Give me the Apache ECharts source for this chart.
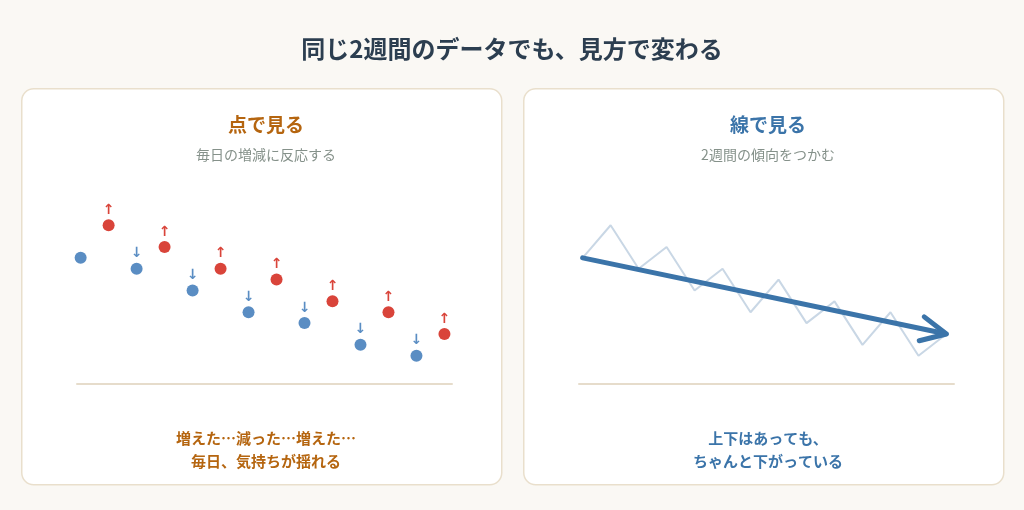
<!DOCTYPE html>
<html>
<head>
<meta charset="utf-8">
<script src="https://cdn.jsdelivr.net/npm/echarts@6/dist/echarts.min.js"></script>
<style>
  html, body { margin: 0; padding: 0; background: #faf8f4; }
  #chart { width: 1024px; height: 510px; }
</style>
</head>
<body>
<div id="chart"></div>
<script>
const myChart = echarts.init(document.getElementById('chart'));

// 14 days of values (same data for both panels)
const days = [0, 1, 2, 3, 4, 5, 6, 7, 8, 9, 10, 11, 12, 13];
const values = [10, 13, 9, 11, 7, 9, 5, 8, 4, 6, 2, 5, 1, 3];

const mainTitle = '同じ2週間のデータでも、見方で変わる';
const leftTitle = '点で見る';
const leftSub = '毎日の増減に反応する';
const leftNote = '増えた…減った…増えた…\n毎日、気持ちが揺れる';
const rightTitle = '線で見る';
const rightSub = '2週間の傾向をつかむ';
const rightNote = '上下はあっても、\nちゃんと下がっている';

const FONT = '"Noto Sans CJK JP", "Noto Sans", sans-serif';
const RED = '#d9443a';
const BLUE = '#5a8dc3';
const ORANGE = '#b5650f';
const DEEP_BLUE = '#3b74a9';

// up / down compared with the day before
const trend = values.map((v, i) => (i === 0 ? 0 : v > values[i - 1] ? 1 : -1));

const pointData = days.map((d, i) => ({
    value: [d, values[i]],
    itemStyle: {color: trend[i] > 0 ? RED : BLUE, opacity: 1},
    label: {
        show: i > 0,
        formatter: trend[i] > 0 ? '↑' : '↓',
        color: trend[i] > 0 ? RED : BLUE,
    },
}));

const lineData = days.map((d, i) => [d, values[i]]);
const trendData = [[days[0], values[0], days[days.length - 1], values[values.length - 1]]];

const xBase = {
    type: 'value',
    min: -0.13,
    max: 13.27,
    axisLine: {show: true, onZero: false, lineStyle: {color: '#e6dccb', width: 2}},
    axisTick: {show: false},
    axisLabel: {show: false},
    splitLine: {show: false},
};
const yBase = {
    type: 'value',
    min: -1.6,
    max: 14.4,
    axisLine: {show: false},
    axisTick: {show: false},
    axisLabel: {show: false},
    splitLine: {show: false},
};

const panel = (x) => ({
    type: 'rect',
    left: x,
    top: 88,
    shape: {width: 480, height: 396, r: 12},
    style: {fill: '#ffffff', stroke: '#e9dfcc', lineWidth: 1.5},
    z: -10,
});

const option = {
    backgroundColor: '#faf8f4',
    animation: false,
    graphic: [panel(21), panel(523)],
    title: [
        {text: mainTitle, left: 'center', top: 32,
            textStyle: {fontFamily: FONT, fontSize: 24, fontWeight: 'bold', color: '#2c3e50'}},
        {text: leftTitle, left: 261, textAlign: 'center', top: 110,
            textStyle: {fontFamily: FONT, fontSize: 19, fontWeight: 'bold', color: ORANGE}},
        {text: leftSub, left: 261, textAlign: 'center', top: 143,
            textStyle: {fontFamily: FONT, fontSize: 14, fontWeight: 'normal', color: '#85918a'}},
        {text: leftNote, left: 261, textAlign: 'center', top: 422,
            textStyle: {fontFamily: FONT, fontSize: 15, fontWeight: 'bold', color: ORANGE,
                lineHeight: 23, align: 'center'}},
        {text: rightTitle, left: 763, textAlign: 'center', top: 110,
            textStyle: {fontFamily: FONT, fontSize: 19, fontWeight: 'bold', color: DEEP_BLUE}},
        {text: rightSub, left: 763, textAlign: 'center', top: 143,
            textStyle: {fontFamily: FONT, fontSize: 14, fontWeight: 'normal', color: '#85918a'}},
        {text: rightNote, left: 763, textAlign: 'center', top: 422,
            textStyle: {fontFamily: FONT, fontSize: 15, fontWeight: 'bold', color: DEEP_BLUE,
                lineHeight: 23, align: 'center'}},
    ],
    grid: [
        {left: 77, width: 375, top: 210, height: 174},
        {left: 579, width: 375, top: 210, height: 174},
    ],
    xAxis: [
        Object.assign({gridIndex: 0}, xBase),
        Object.assign({gridIndex: 1}, xBase),
    ],
    yAxis: [
        Object.assign({gridIndex: 0}, yBase),
        Object.assign({gridIndex: 1}, yBase),
    ],
    series: [
        {
            type: 'scatter',
            xAxisIndex: 0,
            yAxisIndex: 0,
            symbolSize: 12,
            data: pointData,
            label: {position: 'top', distance: 2, fontSize: 14, fontWeight: 'bold', fontFamily: 'DejaVu Sans'},
        },
        {
            type: 'line',
            xAxisIndex: 1,
            yAxisIndex: 1,
            data: lineData,
            showSymbol: false,
            lineStyle: {color: '#c9d7e5', width: 2},
            z: 2,
        },
        {
            type: 'custom',
            xAxisIndex: 1,
            yAxisIndex: 1,
            data: trendData,
            z: 3,
            renderItem: (params, api) => {
                const p0 = api.coord([api.value(0), api.value(1)]);
                const p1 = api.coord([api.value(2), api.value(3)]);
                const ang = Math.atan2(p1[1] - p0[1], p1[0] - p0[0]);
                const len = 28;
                const spread = 0.45;
                const a1 = [p1[0] - len * Math.cos(ang - spread), p1[1] - len * Math.sin(ang - spread)];
                const a2 = [p1[0] - len * Math.cos(ang + spread), p1[1] - len * Math.sin(ang + spread)];
                const style = {stroke: DEEP_BLUE, lineWidth: 5, lineCap: 'round', lineJoin: 'round', fill: null};
                return {
                    type: 'group',
                    children: [
                        {type: 'line', shape: {x1: p0[0], y1: p0[1], x2: p1[0] - 2 * Math.cos(ang), y2: p1[1] - 2 * Math.sin(ang)}, style},
                        {type: 'polyline', shape: {points: [a1, p1, a2]}, style},
                    ],
                };
            },
        },
    ],
};

myChart.setOption(option);
</script>
</body>
</html>
